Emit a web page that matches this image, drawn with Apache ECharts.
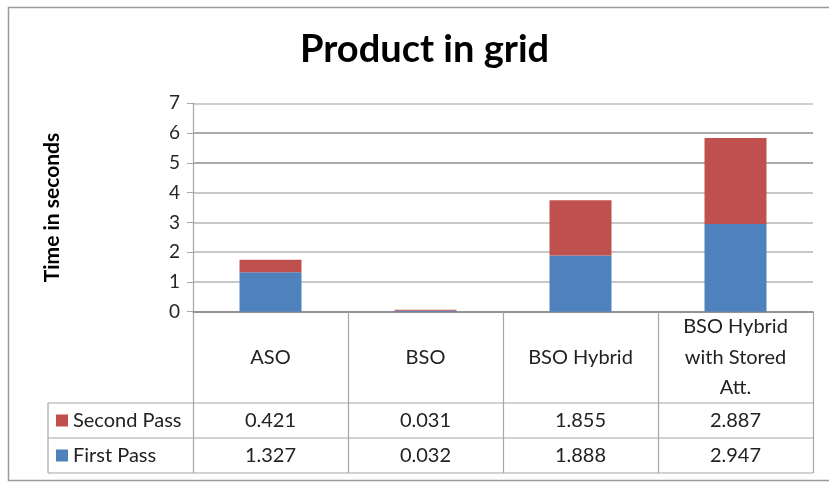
<!DOCTYPE html>
<html>
<head>
<meta charset="utf-8">
<script src="https://cdn.jsdelivr.net/npm/echarts@6/dist/echarts.min.js"></script>
<style>
  html, body { margin: 0; padding: 0; background: #ffffff; }
  #chart { width: 829px; height: 483px; }
</style>
</head>
<body>
<div id="chart"></div>
<script>
// Categories shown along the x axis (header row of the data table)
const categories = ['ASO', 'BSO', 'BSO Hybrid', 'BSO Hybrid\nwith Stored\nAtt.'];
// Timings per pass, in seconds
const firstPass = [1.327, 0.032, 1.888, 2.947];
const secondPass = [0.421, 0.031, 1.855, 2.887];
const seriesNames = ['First Pass', 'Second Pass'];
// Y axis range
const yMin = 0, yMax = 7, yStep = 1;

const FONT = 'Lato, "Noto Sans", sans-serif';
const BLUE = '#4F81BD';
const RED = '#C0504D';
const LINE = '#a6a6a6';

// Plot area and table geometry
const W = 829, H = 483;
const gridLeft = 193, gridRight = 16, gridTop = 103.3, gridBottom = 171.3;
const axisY = H - gridBottom;          // y pixel of the category axis
const headerH = 91.3, rowH = 35;       // table row heights
const tableLeft = 48;
const tableRight = W - gridRight;
const row1 = axisY + headerH, row2 = row1 + rowH, row3 = row2 + rowH;

function fmtNum(v) { return v.toFixed(3); }

const chart = echarts.init(document.getElementById('chart'), null, { renderer: 'canvas' });

const option = {
  backgroundColor: '#ffffff',
  animation: false,
  title: {
    text: 'Product in grid',
    left: 300,
    top: 31,
    padding: 0,
    textStyle: { fontFamily: FONT, fontWeight: 'bold', fontSize: 38, color: '#000' }
  },
  legend: {
    orient: 'vertical',
    left: 56,
    top: row1,
    padding: 0,
    itemGap: 0,
    itemWidth: 12,
    itemHeight: 12,
    icon: 'rect',
    data: [seriesNames[1], seriesNames[0]],
    textStyle: { fontFamily: FONT, fontSize: 20, color: '#222', lineHeight: rowH }
  },
  grid: { left: gridLeft, right: gridRight, top: gridTop, bottom: gridBottom, containLabel: false },
  xAxis: {
    type: 'category',
    data: categories,
    axisLine: { lineStyle: { color: '#8c8c8c', width: 1.5 } },
    axisTick: { show: true, inside: false, length: headerH + 2 * rowH, lineStyle: { color: LINE, width: 1.2 } },
    axisLabel: {
      interval: 0,
      margin: 0,
      verticalAlign: 'top',
      formatter: function (value, idx) {
        const parts = value.split('\n');
        const style = parts.length > 1 ? 'h3' : 'h1';
        const head = parts.map(p => '{' + style + '|' + p + '}').join('\n');
        return head + '\n{v|' + fmtNum(secondPass[idx]) + '}\n{v|' + fmtNum(firstPass[idx]) + '}';
      },
      rich: {
        h1: { fontFamily: FONT, fontSize: 20, color: '#222', lineHeight: headerH },
        h3: { fontFamily: FONT, fontSize: 20, color: '#222', lineHeight: headerH / 3 },
        v: { fontFamily: FONT, fontSize: 20, color: '#222', lineHeight: rowH }
      }
    }
  },
  yAxis: {
    type: 'value',
    min: yMin,
    max: yMax,
    interval: yStep,
    name: 'Time in seconds',
    nameLocation: 'middle',
    nameGap: 130,
    nameRotate: 90,
    nameTextStyle: { fontFamily: FONT, fontWeight: 'bold', fontSize: 21, color: '#000' },
    axisLine: { show: true, lineStyle: { color: LINE, width: 1.2 } },
    axisTick: { show: true, length: 6, lineStyle: { color: LINE } },
    axisLabel: { margin: 13, fontFamily: FONT, fontSize: 19, color: '#262626' },
    splitLine: {
      lineStyle: {
        color: ['#8c8c8c', '#b4b4b4', '#b4b4b4', '#b4b4b4', '#b4b4b4', '#8f8f8f', '#8f8f8f', '#bdbdbd'],
        width: 1.5
      }
    }
  },
  series: [
    {
      name: seriesNames[0],
      type: 'bar',
      stack: 'total',
      barWidth: '40%',
      itemStyle: { color: BLUE },
      data: firstPass
    },
    {
      name: seriesNames[1],
      type: 'bar',
      stack: 'total',
      barWidth: '40%',
      itemStyle: { color: RED },
      data: secondPass
    }
  ],
  graphic: [
    // outer frame
    { type: 'rect', shape: { x: 8.5, y: 7.5, width: 840, height: 473 }, style: { fill: 'none', stroke: '#9a9a9a', lineWidth: 1.5 }, silent: true },
    // table rules
    { type: 'line', shape: { x1: tableLeft, y1: row1, x2: tableRight, y2: row1 }, style: { stroke: LINE, lineWidth: 1.2 }, silent: true },
    { type: 'line', shape: { x1: tableLeft, y1: row2, x2: tableRight, y2: row2 }, style: { stroke: LINE, lineWidth: 1.2 }, silent: true },
    { type: 'line', shape: { x1: tableLeft, y1: row3, x2: tableRight, y2: row3 }, style: { stroke: LINE, lineWidth: 1.2 }, silent: true },
    { type: 'line', shape: { x1: tableLeft, y1: row1, x2: tableLeft, y2: row3 }, style: { stroke: LINE, lineWidth: 1.2 }, silent: true }
  ]
};

chart.setOption(option);
</script>
</body>
</html>
